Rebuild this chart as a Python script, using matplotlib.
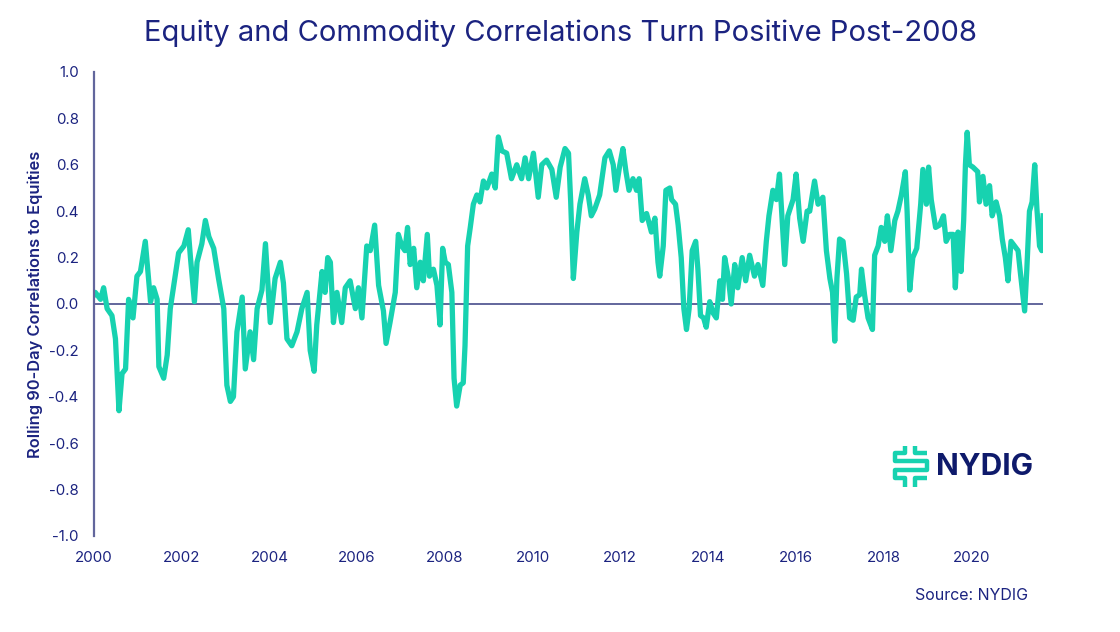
import matplotlib
matplotlib.use("Agg")
import matplotlib.pyplot as plt
from matplotlib.lines import Line2D

# Данни, отчетени от графиката
years = [
    2000.00, 2000.03, 2000.15, 2000.22, 2000.30, 2000.41, 2000.49, 2000.57, 2000.64, 2000.72,
    2000.79, 2000.89, 2000.98, 2001.06, 2001.17, 2001.29, 2001.36, 2001.44, 2001.48, 2001.59,
    2001.67, 2001.74, 2001.82, 2001.93, 2002.05, 2002.15, 2002.20, 2002.29, 2002.35, 2002.46,
    2002.54, 2002.62, 2002.73, 2002.84, 2002.96, 2003.03, 2003.11, 2003.18, 2003.26, 2003.38,
    2003.45, 2003.56, 2003.64, 2003.72, 2003.83, 2003.91, 2004.02, 2004.13, 2004.25, 2004.32,
    2004.40, 2004.51, 2004.63, 2004.74, 2004.86, 2004.93, 2005.02, 2005.08, 2005.20, 2005.27,
    2005.33,
    2005.39, 2005.46, 2005.54, 2005.65, 2005.73, 2005.84, 2005.96, 2006.03, 2006.11, 2006.22,
    2006.30, 2006.40, 2006.49, 2006.60, 2006.66, 2006.75, 2006.87, 2006.94, 2007.02, 2007.09,
    2007.15, 2007.21, 2007.29, 2007.36, 2007.44, 2007.51, 2007.60, 2007.65, 2007.74, 2007.82,
    2007.89, 2007.95, 2008.01, 2008.08, 2008.16, 2008.21, 2008.27, 2008.35, 2008.42, 2008.46,
    2008.52, 2008.58, 2008.65, 2008.73, 2008.80, 2008.88, 2008.96, 2009.07, 2009.15, 2009.22,
    2009.30, 2009.41, 2009.52, 2009.64, 2009.75, 2009.83, 2009.91, 2010.02, 2010.13, 2010.21,
    2010.32, 2010.44, 2010.54, 2010.63, 2010.74, 2010.82, 2010.87, 2010.93, 2011.01,
    2011.08, 2011.19, 2011.27, 2011.34, 2011.42, 2011.53, 2011.65, 2011.75, 2011.84, 2011.90,
    2011.99, 2012.06, 2012.13, 2012.20, 2012.29, 2012.37, 2012.43, 2012.50, 2012.60, 2012.71,
    2012.79, 2012.86, 2012.90, 2012.98, 2013.04, 2013.13, 2013.17, 2013.26, 2013.32, 2013.39,
    2013.45, 2013.51, 2013.57, 2013.64, 2013.72, 2013.77, 2013.83, 2013.90, 2013.96, 2014.04,
    2014.12, 2014.19, 2014.27, 2014.33, 2014.38, 2014.46, 2014.53, 2014.61, 2014.68, 2014.78,
    2014.86, 2014.95, 2015.06, 2015.14, 2015.25, 2015.33, 2015.39, 2015.48, 2015.56, 2015.63,
    2015.71, 2015.75, 2015.82, 2015.94, 2016.01, 2016.09, 2016.17, 2016.26,
    2016.32, 2016.43, 2016.51, 2016.62, 2016.70, 2016.78, 2016.84, 2016.89, 2016.94, 2017.00,
    2017.08, 2017.16, 2017.23, 2017.31, 2017.38, 2017.46, 2017.50, 2017.57, 2017.65, 2017.75,
    2017.80, 2017.88, 2017.95, 2018.03, 2018.09, 2018.17, 2018.26, 2018.33, 2018.41, 2018.50,
    2018.54, 2018.60, 2018.67, 2018.76, 2018.85, 2018.90, 2018.98, 2019.03, 2019.09, 2019.19,
    2019.28, 2019.37, 2019.43, 2019.51, 2019.59, 2019.64, 2019.70, 2019.77, 2019.83, 2019.87,
    2019.91, 2019.96, 2020.04, 2020.15, 2020.19, 2020.27, 2020.34, 2020.42, 2020.48, 2020.57,
    2020.65, 2020.71, 2020.78, 2020.84, 2020.91, 2020.99, 2021.07, 2021.12, 2021.18, 2021.22,
    2021.27, 2021.33, 2021.39, 2021.45, 2021.50, 2021.56, 2021.61, 2021.64,
]
corr = [
    0.04, 0.05, 0.02, 0.07, -0.02, -0.05, -0.15, -0.46, -0.30, -0.28,
    0.02, -0.06, 0.12, 0.14, 0.27, 0.01, 0.07, 0.02, -0.27, -0.32,
    -0.22, -0.02, 0.08, 0.22, 0.25, 0.32, 0.20, 0.01, 0.18, 0.26,
    0.36, 0.29, 0.24, 0.11, -0.02, -0.35, -0.42, -0.40, -0.12, 0.03,
    -0.28, -0.12, -0.24, -0.02, 0.06, 0.26, -0.08, 0.11, 0.18, 0.09,
    -0.15, -0.18, -0.12, -0.02, 0.05, -0.20, -0.29, -0.09, 0.14, 0.05,
    0.20,
    0.18, -0.08, 0.05, -0.08, 0.07, 0.10, -0.02, 0.07, -0.06, 0.25,
    0.23, 0.34, 0.08, -0.03, -0.17, -0.08, 0.05, 0.30, 0.25, 0.23,
    0.33, 0.17, 0.24, 0.07, 0.18, 0.10, 0.30, 0.12, 0.15, 0.08,
    -0.09, 0.24, 0.18, 0.17, 0.05, -0.32, -0.44, -0.35, -0.34, -0.18,
    0.25, 0.33, 0.43, 0.47, 0.44, 0.53, 0.50, 0.56, 0.50, 0.72,
    0.66, 0.65, 0.54, 0.60, 0.54, 0.63, 0.54, 0.65, 0.46, 0.60,
    0.62, 0.58, 0.46, 0.59, 0.67, 0.65, 0.44, 0.11, 0.31,
    0.43, 0.54, 0.47, 0.38, 0.41, 0.47, 0.63, 0.66, 0.60, 0.49,
    0.60, 0.67, 0.57, 0.49, 0.54, 0.49, 0.54, 0.36, 0.39, 0.31,
    0.37, 0.18, 0.12, 0.25, 0.49, 0.50, 0.45, 0.43, 0.34, 0.20,
    -0.02, -0.11, -0.02, 0.23, 0.27, 0.15, -0.05, -0.06, -0.10, 0.01,
    -0.04, -0.06, 0.10, 0.02, 0.20, 0.12, 0.00, 0.17, 0.07, 0.20,
    0.10, 0.21, 0.12, 0.17, 0.08, 0.27, 0.38, 0.49, 0.45, 0.56,
    0.30, 0.17, 0.38, 0.45, 0.56, 0.37, 0.27, 0.40,
    0.40, 0.53, 0.43, 0.46, 0.23, 0.11, 0.05, -0.16, 0.11, 0.28,
    0.27, 0.13, -0.06, -0.07, 0.03, 0.04, 0.15, 0.04, -0.06, -0.11,
    0.21, 0.25, 0.33, 0.27, 0.38, 0.23, 0.36, 0.40, 0.47, 0.57,
    0.40, 0.06, 0.20, 0.24, 0.43, 0.58, 0.43, 0.59, 0.45, 0.33,
    0.34, 0.38, 0.27, 0.30, 0.30, 0.07, 0.31, 0.14, 0.36, 0.60,
    0.74, 0.60, 0.59, 0.57, 0.44, 0.55, 0.43, 0.51, 0.38, 0.44,
    0.38, 0.28, 0.20, 0.10, 0.27, 0.25, 0.23, 0.14, 0.04, -0.03,
    0.15, 0.40, 0.44, 0.60, 0.41, 0.25, 0.23, 0.38,
]
x_ticks = list(range(2000, 2021, 2))
y_ticks = [-1.0, -0.8, -0.6, -0.4, -0.2, 0.0, 0.2, 0.4, 0.6, 0.8, 1.0]

navy = '#1B2380'
axis_col = '#62669C'
teal = '#17D2B0'

plt.rcParams['font.family'] = ['Inter', 'DejaVu Sans']

fig = plt.figure(figsize=(11.2, 6.32), dpi=100)
ax = fig.add_axes([0.0839, 0.1519, 0.8474, 0.7342])

ax.axhline(0, color=axis_col, lw=1.4, zorder=1)
ax.plot(years, corr, color=teal, lw=3.8, solid_joinstyle='round', zorder=2)

ax.set_xlim(2000, years[-1])
ax.set_ylim(-1.0, 1.0)
ax.set_xticks(x_ticks)
ax.set_xticklabels([str(t) for t in x_ticks])
ax.set_yticks(y_ticks)
ax.set_yticklabels([f'{t:.1f}' for t in y_ticks])
ax.tick_params(length=0, labelsize=10.8, labelcolor=navy)
ax.tick_params(axis='y', pad=11)
ax.tick_params(axis='x', pad=11)
for s in ['top', 'right', 'bottom']:
    ax.spines[s].set_visible(False)
ax.spines['left'].set_color(axis_col)
ax.spines['left'].set_linewidth(1.6)

ax.set_ylabel('Rolling 90-Day Correlations to Equities', fontsize=11.8,
              color=navy, fontweight='semibold', labelpad=4)

fig.text(0.5, 0.948, 'Equity and Commodity Correlations Turn Positive Post-2008',
         ha='center', va='center', fontsize=21, color=navy)
fig.text(0.918, 0.058, 'Source: NYDIG', ha='right', va='center',
         fontsize=11.5, color=navy)

# лого
def px(x, y):
    return x / 1120, 1 - y / 632

logo_paths = [
    [(905, 446), (905, 453), (895, 453), (895, 461), (927, 461),
     (927, 470), (895, 470), (895, 478), (905, 478), (905, 487)],
    [(915, 446), (915, 453), (927, 453)],
    [(915, 487), (915, 478), (927, 478)],
]
for path in logo_paths:
    xs = [px(a, b)[0] for a, b in path]
    ys = [px(a, b)[1] for a, b in path]
    fig.add_artist(Line2D(xs, ys, color=teal, lw=3.2, solid_capstyle='butt',
                          solid_joinstyle='round'))
fig.text(px(936, 467)[0], px(936, 467)[1], 'NYDIG', ha='left', va='center',
         fontsize=21.5, fontweight='bold', color='#0E1A6B')

fig.savefig('out.png', dpi=100)
